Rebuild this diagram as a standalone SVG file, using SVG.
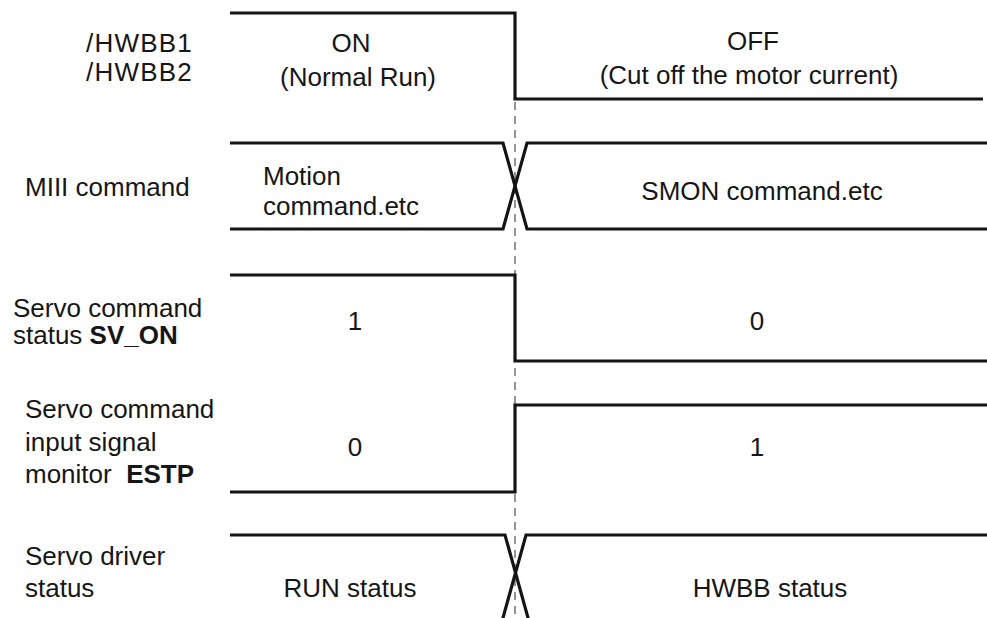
<svg xmlns="http://www.w3.org/2000/svg" width="987" height="618" viewBox="0 0 987 618">
  <style>
    text { font-family: "Liberation Sans", Arial, sans-serif; font-size: 26px; fill: #161616; }
    .c { text-anchor: middle; }
    .b { font-weight: bold; }
    .wave { fill: none; stroke: #141414; stroke-width: 3.2; stroke-linejoin: miter; }
    .edge { fill: none; stroke: #7a7a7a; stroke-width: 1.6; stroke-dasharray: 8 6; }
  </style>
  <rect width="987" height="618" fill="#ffffff"/>

  <!-- switching instant -->
  <g id="connectors">
    <line class="edge" x1="515" y1="102" x2="515" y2="618"/>
  </g>

  <!-- safety inputs /HWBB1, /HWBB2 -->
  <g id="hwbb">
    <text x="86" y="52" letter-spacing="1.2">/HWBB1</text>
    <text x="86" y="81" letter-spacing="1.2">/HWBB2</text>
    <path class="wave" d="M230 13 H515 V99 H983"/>
    <text class="c" x="351" y="52">ON</text>
    <text class="c" x="358" y="86">(Normal Run)</text>
    <text class="c" x="753" y="50">OFF</text>
    <text class="c" x="749" y="84">(Cut off the motor current)</text>
  </g>

  <!-- MECHATROLINK-III command -->
  <g id="miii">
    <text x="25" y="196">MIII command</text>
    <path class="wave" d="M230 143 H503 L527 229 H987"/>
    <path class="wave" d="M230 229 H503 L527 143 H987"/>
    <text x="263" y="185">Motion</text>
    <text x="263" y="215">command.etc</text>
    <text class="c" x="762" y="200">SMON command.etc</text>
  </g>

  <!-- servo command status SV_ON -->
  <g id="sv-on">
    <text x="13" y="317">Servo command</text>
    <text x="13" y="344">status <tspan class="b">SV_ON</tspan></text>
    <path class="wave" d="M230 275 H515 V361 H987"/>
    <text class="c" x="355" y="330">1</text>
    <text class="c" x="757" y="330">0</text>
  </g>

  <!-- servo command input signal monitor ESTP -->
  <g id="estp">
    <text x="25" y="418">Servo command</text>
    <text x="25" y="451">input signal</text>
    <text x="25" y="483" xml:space="preserve">monitor  <tspan class="b">ESTP</tspan></text>
    <path class="wave" d="M230 492 H515 V405 H987"/>
    <text class="c" x="355" y="456">0</text>
    <text class="c" x="757" y="456">1</text>
  </g>

  <!-- servo driver status -->
  <g id="driver">
    <text x="25" y="565">Servo driver</text>
    <text x="25" y="597">status</text>
    <path class="wave" d="M230 535 H505 L530 625"/>
    <path class="wave" d="M987 535 H526 L501 625"/>
    <text class="c" x="350" y="597">RUN status</text>
    <text class="c" x="770" y="597">HWBB status</text>
  </g>
</svg>
